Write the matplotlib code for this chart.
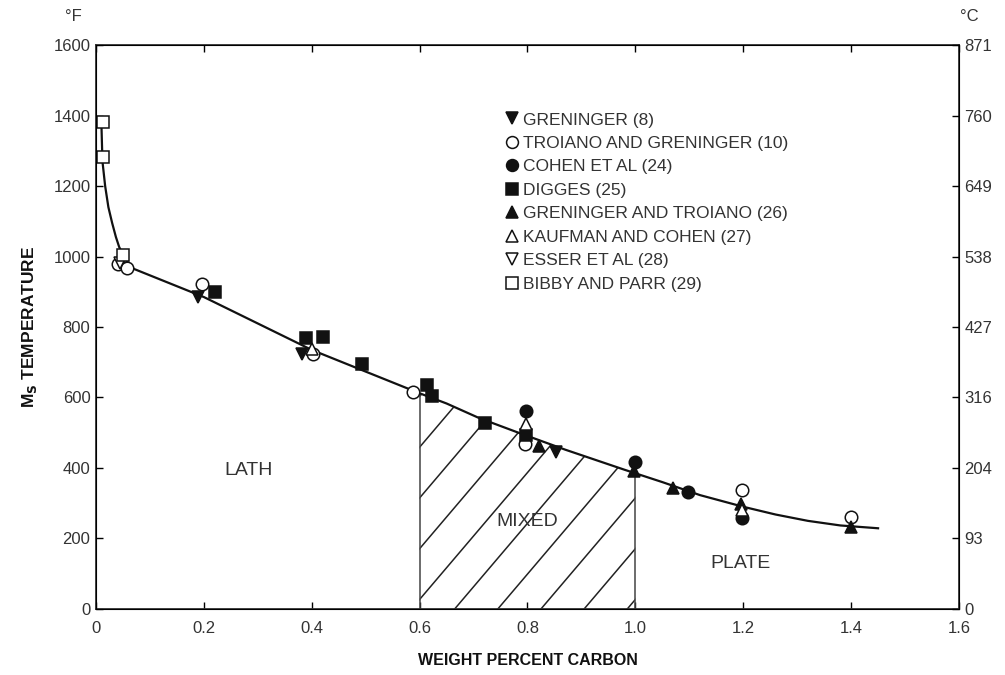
import numpy as np
import matplotlib
matplotlib.use("Agg")
import matplotlib.pyplot as plt

plt.rcParams["font.family"] = ["Liberation Sans", "DejaVu Sans"]

# fitted Ms curve (wt% C, deg F)
curve_c = [0.01, 0.012, 0.017, 0.023, 0.03, 0.037, 0.043, 0.055, 0.07, 0.2, 0.4, 0.6,
           0.65, 0.71, 0.78, 0.87, 0.98, 1.05, 1.12, 1.2, 1.26, 1.32, 1.38, 1.45]
curve_f = [1380, 1270, 1200, 1140, 1095, 1055, 1027, 990, 965, 885, 735, 612,
           583, 542, 502, 452, 395, 360, 323, 290, 268, 250, 237, 229]

# data sets: (label, marker, filled, carbon, Ms F)
greninger_c = [0.19, 0.382, 0.852]
greninger_f = [885, 722, 445]
troiano_c = [0.04, 0.058, 0.197, 0.403, 0.588, 0.795, 1.197, 1.4]
troiano_f = [978, 968, 922, 722, 615, 468, 338, 262]
cohen_c = [0.797, 1.0, 1.098, 1.198]
cohen_f = [562, 418, 333, 258]
digges_c = [0.221, 0.39, 0.42, 0.493, 0.614, 0.623, 0.722, 0.797]
digges_f = [898, 769, 772, 695, 635, 605, 528, 495]
gren_troiano_c = [0.822, 0.997, 1.07, 1.195, 1.4]
gren_troiano_f = [462, 392, 342, 298, 232]
kaufman_c = [0.4, 0.797, 1.198]
kaufman_f = [738, 525, 282]
esser_c = [0.045]
esser_f = [982]
bibby_c = [0.013, 0.013, 0.05]
bibby_f = [1382, 1282, 1003]

series = [
    ("GRENINGER (8)", "v", True, greninger_c, greninger_f),
    ("TROIANO AND GRENINGER (10)", "o", False, troiano_c, troiano_f),
    ("COHEN ET AL (24)", "o", True, cohen_c, cohen_f),
    ("DIGGES (25)", "s", True, digges_c, digges_f),
    ("GRENINGER AND TROIANO (26)", "^", True, gren_troiano_c, gren_troiano_f),
    ("KAUFMAN AND COHEN (27)", "^", False, kaufman_c, kaufman_f),
    ("ESSER ET AL (28)", "v", False, esser_c, esser_f),
    ("BIBBY AND PARR (29)", "s", False, bibby_c, bibby_f),
]

f_ticks = [0, 200, 400, 600, 800, 1000, 1200, 1400, 1600]
c_labels = ["0", "93", "204", "316", "427", "538", "649", "760", "871"]
x_ticks = [0, 0.2, 0.4, 0.6, 0.8, 1.0, 1.2, 1.4, 1.6]
x_labels = ["0", "0.2", "0.4", "0.6", "0.8", "1.0", "1.2", "1.4", "1.6"]
mixed_lo, mixed_hi = 0.6, 1.0

TXT = "#333333"

fig = plt.figure(figsize=(10.05, 6.75), dpi=100)
ax = fig.add_axes([0.0955, 0.0978, 0.8587, 0.8355])
ax.set_xlim(0, 1.6)
ax.set_ylim(0, 1600)

# mixed region: outline + diagonal hatch clipped to it
xm = np.linspace(mixed_lo, mixed_hi, 60)
ym = np.interp(xm, curve_c, curve_f)
poly = ax.fill_between(xm, 0, ym, facecolor="none", edgecolor="none", zorder=1)
ax.vlines([mixed_lo, mixed_hi], 0, np.interp([mixed_lo, mixed_hi], curve_c, curve_f),
          color="#444444", lw=1.1, zorder=2)
slope = 1800.0  # deg F per wt% -> ~50 deg on the page
for x0 in np.arange(0.665 - 0.08 * 8, mixed_hi + 0.01, 0.08):
    xx = np.array([x0, x0 + 1.2])
    ln, = ax.plot(xx, slope * (xx - x0), color="#222222", lw=1.1, zorder=1)
    ln.set_clip_path(poly.get_paths()[0], ax.transData)

ax.plot(curve_c, curve_f, color="#111111", lw=1.6, zorder=3)

handles = []
for label, mk, filled, xs, ys in series:
    h, = ax.plot(xs, ys, ls="none", marker=mk, ms=9,
                 markerfacecolor="#111111" if filled else "white",
                 markeredgecolor="#111111", markeredgewidth=1.1,
                 label=label, zorder=4)
    handles.append(h)

leg = ax.legend(handles=handles, loc="upper left", bbox_to_anchor=(0.466, 0.896),
                frameon=False, fontsize=12.5, handlelength=0.6, handletextpad=0.35,
                labelspacing=0.48, borderpad=0, markerscale=0.95)
for t in leg.get_texts():
    t.set_color(TXT)

ax.text(0.282, 394, "LATH", ha="center", va="center", fontsize=14, color=TXT)
ax.text(0.80, 247, "MIXED", ha="center", va="center", fontsize=14, color=TXT)
ax.text(1.195, 128, "PLATE", ha="center", va="center", fontsize=14, color=TXT)

ax.set_xticks(x_ticks)
ax.set_xticklabels(x_labels)
ax.set_yticks(f_ticks)
ax.tick_params(axis="y", direction="in", length=5, width=1, labelsize=12,
               labelcolor=TXT, pad=4)
ax.tick_params(axis="x", direction="in", top=True, length=5, width=1, labelsize=12,
               labelcolor=TXT, pad=9)
for s in ax.spines.values():
    s.set_linewidth(1.3)
    s.set_color("#333333")

ax2 = ax.twinx()
ax2.set_ylim(0, 1600)
ax2.set_yticks(f_ticks)
ax2.set_yticklabels(c_labels)
ax2.tick_params(direction="in", length=5, width=1, labelsize=12, labelcolor=TXT, pad=4)

ax.set_xlabel("WEIGHT PERCENT CARBON", fontsize=11.5, fontweight="bold",
              color="#111111", labelpad=12)
ax.set_ylabel(r"M$_\mathbf{S}$ TEMPERATURE", fontsize=12.5, fontweight="bold",
              color="#111111", labelpad=10)
fig.text(0.073, 0.976, "°F", ha="center", va="center", fontsize=12, color=TXT)
fig.text(0.964, 0.976, "°C", ha="center", va="center", fontsize=12, color=TXT)

fig.savefig("out.png", dpi=100)
